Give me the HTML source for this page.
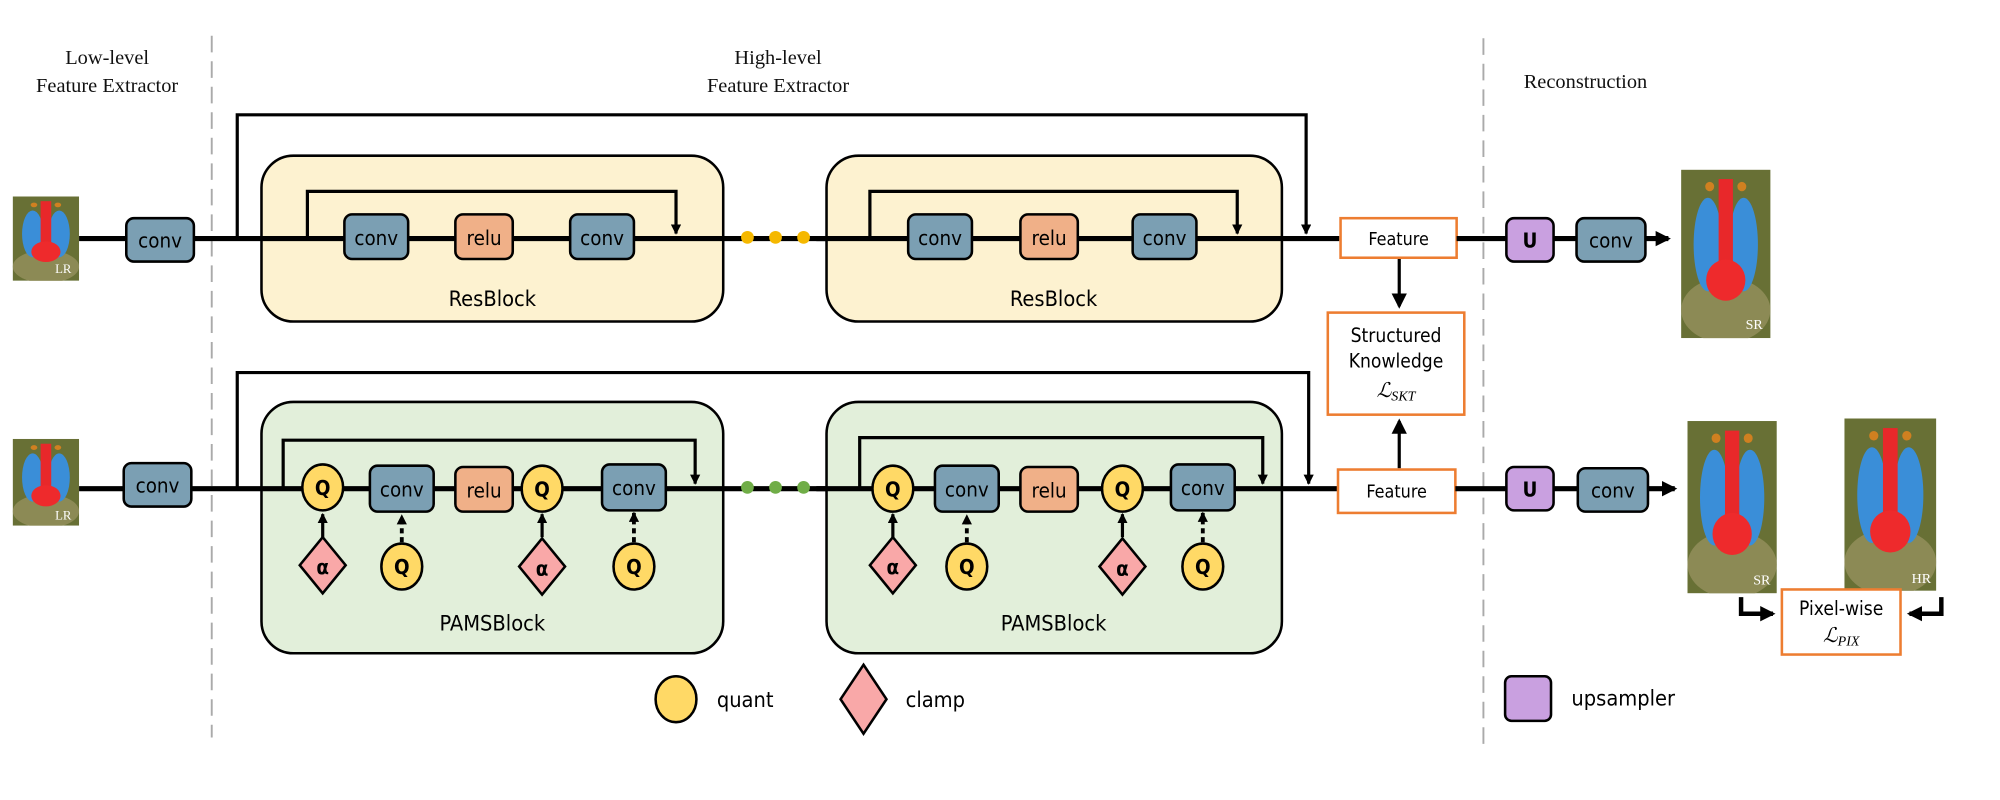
<!DOCTYPE html>
<html><head><meta charset="utf-8"><style>
html,body{margin:0;padding:0;background:#fff;}
svg{display:block;}
.serif{font-family:"Liberation Serif",serif;}
.sans{font-family:"DejaVu Sans Condensed","Liberation Sans",sans-serif;}
</style></head><body>
<svg width="2000" height="800" viewBox="0 0 1568 627" preserveAspectRatio="none" xmlns="http://www.w3.org/2000/svg">
<defs>
<marker id="ah" markerWidth="8" markerHeight="8" refX="7" refY="4" orient="auto" markerUnits="userSpaceOnUse"><path d="M0,0 L8,4 L0,8 z" fill="#000"/></marker>
<marker id="ahb" markerWidth="12" markerHeight="12" refX="10" refY="6" orient="auto" markerUnits="userSpaceOnUse"><path d="M0,0 L12,6 L0,12 z" fill="#000"/></marker>
<symbol id="bab" viewBox="0 0 100 180" preserveAspectRatio="none">
<rect width="100" height="180" fill="#5c6a32"/>
<rect width="100" height="180" fill="#7a7a3a" opacity="0.4"/>
<ellipse cx="50" cy="150" rx="50" ry="35" fill="#8c8a55"/>
<ellipse cx="30" cy="80" rx="16" ry="50" fill="#3a8ed8"/>
<ellipse cx="70" cy="80" rx="16" ry="50" fill="#3a8ed8"/>
<rect x="42" y="10" width="16" height="100" fill="#e8282a"/>
<ellipse cx="50" cy="118" rx="22" ry="22" fill="#ee2a2c"/>
<circle cx="32" cy="18" r="5" fill="#d08020"/><circle cx="68" cy="18" r="5" fill="#d08020"/>
</symbol>
</defs>

<g class="serif" font-size="16" fill="#111" text-anchor="middle">
<text x="84" y="50">Low-level</text>
<text x="84" y="72">Feature Extractor</text>
<text x="610" y="50">High-level</text>
<text x="610" y="72">Feature Extractor</text>
<text x="1243" y="69">Reconstruction</text>
</g>
<line x1="166" y1="28" x2="166" y2="578" stroke="#aaa" stroke-width="1.5" stroke-dasharray="13,7"/>
<line x1="1163" y1="30" x2="1163" y2="590" stroke="#aaa" stroke-width="1.5" stroke-dasharray="13,7"/>

<!-- TOP ROW -->
<use href="#bab" x="10" y="154" width="52" height="66"/>
<text x="56" y="214" class="serif" font-size="10" fill="#fff" text-anchor="end">LR</text>
<line x1="62" y1="187" x2="1050" y2="187" stroke="#000" stroke-width="4"/>
<polyline points="186,187 186,90 1024,90 1024,183" fill="none" stroke="#000" stroke-width="2.5" marker-end="url(#ah)"/>
<rect x="99" y="171" width="53" height="34" rx="6" fill="#7b9fb3" stroke="#000" stroke-width="2"/>
<text x="125.5" y="194" class="sans" font-size="16" text-anchor="middle">conv</text>

<rect x="205" y="122" width="362" height="130" rx="25" fill="#fdf2d0" stroke="#000" stroke-width="2"/>
<line x1="205" y1="187" x2="567" y2="187" stroke="#000" stroke-width="4"/>
<polyline points="241,187 241,150 530,150 530,183" fill="none" stroke="#000" stroke-width="2.5" marker-end="url(#ah)"/>
<g class="sans" font-size="16" text-anchor="middle">
<rect x="270" y="168" width="50" height="35" rx="6" fill="#7b9fb3" stroke="#000" stroke-width="2"/><text x="295" y="192">conv</text>
<rect x="357" y="168" width="45" height="35" rx="6" fill="#f0b088" stroke="#000" stroke-width="2"/><text x="379.5" y="192">relu</text>
<rect x="447" y="168" width="50" height="35" rx="6" fill="#7b9fb3" stroke="#000" stroke-width="2"/><text x="472" y="192">conv</text>
<text x="386" y="240" font-size="17">ResBlock</text>
</g>
<circle cx="586" cy="186" r="5" fill="#f5b800"/><circle cx="608" cy="186" r="5" fill="#f5b800"/><circle cx="630" cy="186" r="5" fill="#f5b800"/>

<rect x="648" y="122" width="357" height="130" rx="25" fill="#fdf2d0" stroke="#000" stroke-width="2"/>
<line x1="640" y1="187" x2="1005" y2="187" stroke="#000" stroke-width="4"/>
<polyline points="682,187 682,150 970,150 970,183" fill="none" stroke="#000" stroke-width="2.5" marker-end="url(#ah)"/>
<g class="sans" font-size="16" text-anchor="middle">
<rect x="712" y="168" width="50" height="35" rx="6" fill="#7b9fb3" stroke="#000" stroke-width="2"/><text x="737" y="192">conv</text>
<rect x="800" y="168" width="45" height="35" rx="6" fill="#f0b088" stroke="#000" stroke-width="2"/><text x="822.5" y="192">relu</text>
<rect x="888" y="168" width="50" height="35" rx="6" fill="#7b9fb3" stroke="#000" stroke-width="2"/><text x="913" y="192">conv</text>
<text x="826" y="240" font-size="17">ResBlock</text>
</g>

<rect x="1051" y="171" width="91" height="31" fill="#fff" stroke="#ed7d31" stroke-width="2"/>
<text x="1096.5" y="192" class="sans" font-size="14" text-anchor="middle">Feature</text>
<line x1="1142" y1="187" x2="1308" y2="187" stroke="#000" stroke-width="4" marker-end="url(#ahb)"/>
<rect x="1181" y="171" width="37" height="34" rx="6" fill="#c9a0e0" stroke="#000" stroke-width="2"/>
<text x="1199.5" y="194" class="sans" font-size="16" font-weight="bold" text-anchor="middle">U</text>
<rect x="1236" y="171" width="54" height="34" rx="6" fill="#7b9fb3" stroke="#000" stroke-width="2"/>
<text x="1263" y="194" class="sans" font-size="16" text-anchor="middle">conv</text>
<use href="#bab" x="1318" y="133" width="70" height="132"/>
<text x="1382" y="258" class="serif" font-size="11" fill="#fff" text-anchor="end">SR</text>

<line x1="1097" y1="203" x2="1097" y2="240" stroke="#000" stroke-width="2.5" marker-end="url(#ahb)"/>
<rect x="1041" y="245" width="107" height="80" fill="#fff" stroke="#ed7d31" stroke-width="2"/>
<g class="sans" font-size="15" text-anchor="middle">
<text x="1094.5" y="268">Structured</text>
<text x="1094.5" y="288">Knowledge</text>
</g>
<text x="1094.5" y="311" class="serif" font-size="16" font-style="italic" text-anchor="middle">ℒ<tspan font-size="11" dy="3">SKT</tspan></text>
<line x1="1097" y1="367" x2="1097" y2="330" stroke="#000" stroke-width="2.5" marker-end="url(#ahb)"/>

<!-- BOTTOM ROW -->
<use href="#bab" x="10" y="344" width="52" height="68"/>
<text x="56" y="407" class="serif" font-size="10" fill="#fff" text-anchor="end">LR</text>
<line x1="62" y1="383" x2="1050" y2="383" stroke="#000" stroke-width="4"/>
<polyline points="186,383 186,292 1026,292 1026,379" fill="none" stroke="#000" stroke-width="2.5" marker-end="url(#ah)"/>
<rect x="97" y="363" width="53" height="34" rx="6" fill="#7b9fb3" stroke="#000" stroke-width="2"/>
<text x="123.5" y="386" class="sans" font-size="16" text-anchor="middle">conv</text>

<rect x="205" y="315" width="362" height="197" rx="25" fill="#e2efda" stroke="#000" stroke-width="2"/>
<line x1="205" y1="383" x2="567" y2="383" stroke="#000" stroke-width="4"/>
<polyline points="222,383 222,345 545,345 545,379" fill="none" stroke="#000" stroke-width="2.5" marker-end="url(#ah)"/>
<rect x="648" y="315" width="357" height="197" rx="25" fill="#e2efda" stroke="#000" stroke-width="2"/>
<line x1="640" y1="383" x2="1005" y2="383" stroke="#000" stroke-width="4"/>
<polyline points="674,383 674,343 990,343 990,379" fill="none" stroke="#000" stroke-width="2.5" marker-end="url(#ah)"/>
<circle cx="586" cy="382" r="5" fill="#70ad47"/><circle cx="608" cy="382" r="5" fill="#70ad47"/><circle cx="630" cy="382" r="5" fill="#70ad47"/>

<g class="sans" font-size="16" text-anchor="middle">
<!-- block 1 -->
<line x1="253" y1="421" x2="253" y2="403" stroke="#000" stroke-width="2.5" marker-end="url(#ah)"/>
<line x1="315" y1="425" x2="315" y2="404" stroke="#000" stroke-width="3" stroke-dasharray="4,3" marker-end="url(#ah)"/>
<line x1="425" y1="421" x2="425" y2="403" stroke="#000" stroke-width="2.5" marker-end="url(#ah)"/>
<line x1="497" y1="425" x2="497" y2="402" stroke="#000" stroke-width="3" stroke-dasharray="4,3" marker-end="url(#ah)"/>
<ellipse cx="253" cy="382" rx="16" ry="18" fill="#ffd966" stroke="#000" stroke-width="2"/><text x="253" y="388" font-weight="bold">Q</text>
<rect x="290" y="365" width="50" height="36" rx="6" fill="#7b9fb3" stroke="#000" stroke-width="2"/><text x="315" y="389">conv</text>
<rect x="357" y="366" width="45" height="35" rx="6" fill="#f0b088" stroke="#000" stroke-width="2"/><text x="379.5" y="390">relu</text>
<ellipse cx="425" cy="383" rx="16" ry="18" fill="#ffd966" stroke="#000" stroke-width="2"/><text x="425" y="389" font-weight="bold">Q</text>
<rect x="472" y="364" width="50" height="36" rx="6" fill="#7b9fb3" stroke="#000" stroke-width="2"/><text x="497" y="388">conv</text>
<polygon points="253,421 271,443 253,465 235,443" fill="#f9a8a8" stroke="#000" stroke-width="2"/><text x="253" y="450" font-weight="bold">α</text>
<ellipse cx="315" cy="444" rx="16" ry="18" fill="#ffd966" stroke="#000" stroke-width="2"/><text x="315" y="450" font-weight="bold">Q</text>
<polygon points="425,422 443,444 425,466 407,444" fill="#f9a8a8" stroke="#000" stroke-width="2"/><text x="425" y="451" font-weight="bold">α</text>
<ellipse cx="497" cy="444" rx="16" ry="18" fill="#ffd966" stroke="#000" stroke-width="2"/><text x="497" y="450" font-weight="bold">Q</text>
<text x="386" y="494" font-size="17">PAMSBlock</text>
<!-- block 2 -->
<line x1="700" y1="421" x2="700" y2="403" stroke="#000" stroke-width="2.5" marker-end="url(#ah)"/>
<line x1="758" y1="425" x2="758" y2="404" stroke="#000" stroke-width="3" stroke-dasharray="4,3" marker-end="url(#ah)"/>
<line x1="880" y1="421" x2="880" y2="403" stroke="#000" stroke-width="2.5" marker-end="url(#ah)"/>
<line x1="943" y1="425" x2="943" y2="402" stroke="#000" stroke-width="3" stroke-dasharray="4,3" marker-end="url(#ah)"/>
<ellipse cx="700" cy="383" rx="16" ry="18" fill="#ffd966" stroke="#000" stroke-width="2"/><text x="700" y="389" font-weight="bold">Q</text>
<rect x="733" y="365" width="50" height="36" rx="6" fill="#7b9fb3" stroke="#000" stroke-width="2"/><text x="758" y="389">conv</text>
<rect x="800" y="366" width="45" height="35" rx="6" fill="#f0b088" stroke="#000" stroke-width="2"/><text x="822.5" y="390">relu</text>
<ellipse cx="880" cy="383" rx="16" ry="18" fill="#ffd966" stroke="#000" stroke-width="2"/><text x="880" y="389" font-weight="bold">Q</text>
<rect x="918" y="364" width="50" height="36" rx="6" fill="#7b9fb3" stroke="#000" stroke-width="2"/><text x="943" y="388">conv</text>
<polygon points="700,421 718,443 700,465 682,443" fill="#f9a8a8" stroke="#000" stroke-width="2"/><text x="700" y="450" font-weight="bold">α</text>
<ellipse cx="758" cy="444" rx="16" ry="18" fill="#ffd966" stroke="#000" stroke-width="2"/><text x="758" y="450" font-weight="bold">Q</text>
<polygon points="880,422 898,444 880,466 862,444" fill="#f9a8a8" stroke="#000" stroke-width="2"/><text x="880" y="451" font-weight="bold">α</text>
<ellipse cx="943" cy="444" rx="16" ry="18" fill="#ffd966" stroke="#000" stroke-width="2"/><text x="943" y="450" font-weight="bold">Q</text>
<text x="826" y="494" font-size="17">PAMSBlock</text>
</g>

<rect x="1049" y="368" width="92" height="34" fill="#fff" stroke="#ed7d31" stroke-width="2"/>
<text x="1095" y="390" class="sans" font-size="14" text-anchor="middle">Feature</text>
<line x1="1141" y1="383" x2="1313" y2="383" stroke="#000" stroke-width="4" marker-end="url(#ahb)"/>
<rect x="1181" y="366" width="37" height="34" rx="6" fill="#c9a0e0" stroke="#000" stroke-width="2"/>
<text x="1199.5" y="389" class="sans" font-size="16" font-weight="bold" text-anchor="middle">U</text>
<rect x="1237" y="367" width="55" height="34" rx="6" fill="#7b9fb3" stroke="#000" stroke-width="2"/>
<text x="1264.5" y="390" class="sans" font-size="16" text-anchor="middle">conv</text>
<use href="#bab" x="1323" y="330" width="70" height="135"/>
<text x="1388" y="458" class="serif" font-size="11" fill="#fff" text-anchor="end">SR</text>
<use href="#bab" x="1446" y="328" width="72" height="135"/>
<text x="1514" y="457" class="serif" font-size="11" fill="#fff" text-anchor="end">HR</text>

<polyline points="1365,468 1365,481 1390,481" fill="none" stroke="#000" stroke-width="3.5" marker-end="url(#ahb)"/>
<polyline points="1522,468 1522,481 1497,481" fill="none" stroke="#000" stroke-width="3.5" marker-end="url(#ahb)"/>
<rect x="1397" y="462" width="93" height="51" fill="#fff" stroke="#ed7d31" stroke-width="2"/>
<text x="1443.5" y="482" class="sans" font-size="15" text-anchor="middle">Pixel-wise</text>
<text x="1443.5" y="503" class="serif" font-size="16" font-style="italic" text-anchor="middle">ℒ<tspan font-size="11" dy="3">PIX</tspan></text>

<ellipse cx="530" cy="548" rx="16" ry="18" fill="#ffd966" stroke="#000" stroke-width="2"/>
<text x="562" y="554" class="sans" font-size="17">quant</text>
<polygon points="677,521 695,548 677,575 659,548" fill="#f9a8a8" stroke="#000" stroke-width="2"/>
<text x="710" y="554" class="sans" font-size="17">clamp</text>
<rect x="1180" y="530" width="36" height="35" rx="5" fill="#c9a0e0" stroke="#000" stroke-width="2"/>
<text x="1232" y="553" class="sans" font-size="17">upsampler</text>
</svg>
</body></html>
